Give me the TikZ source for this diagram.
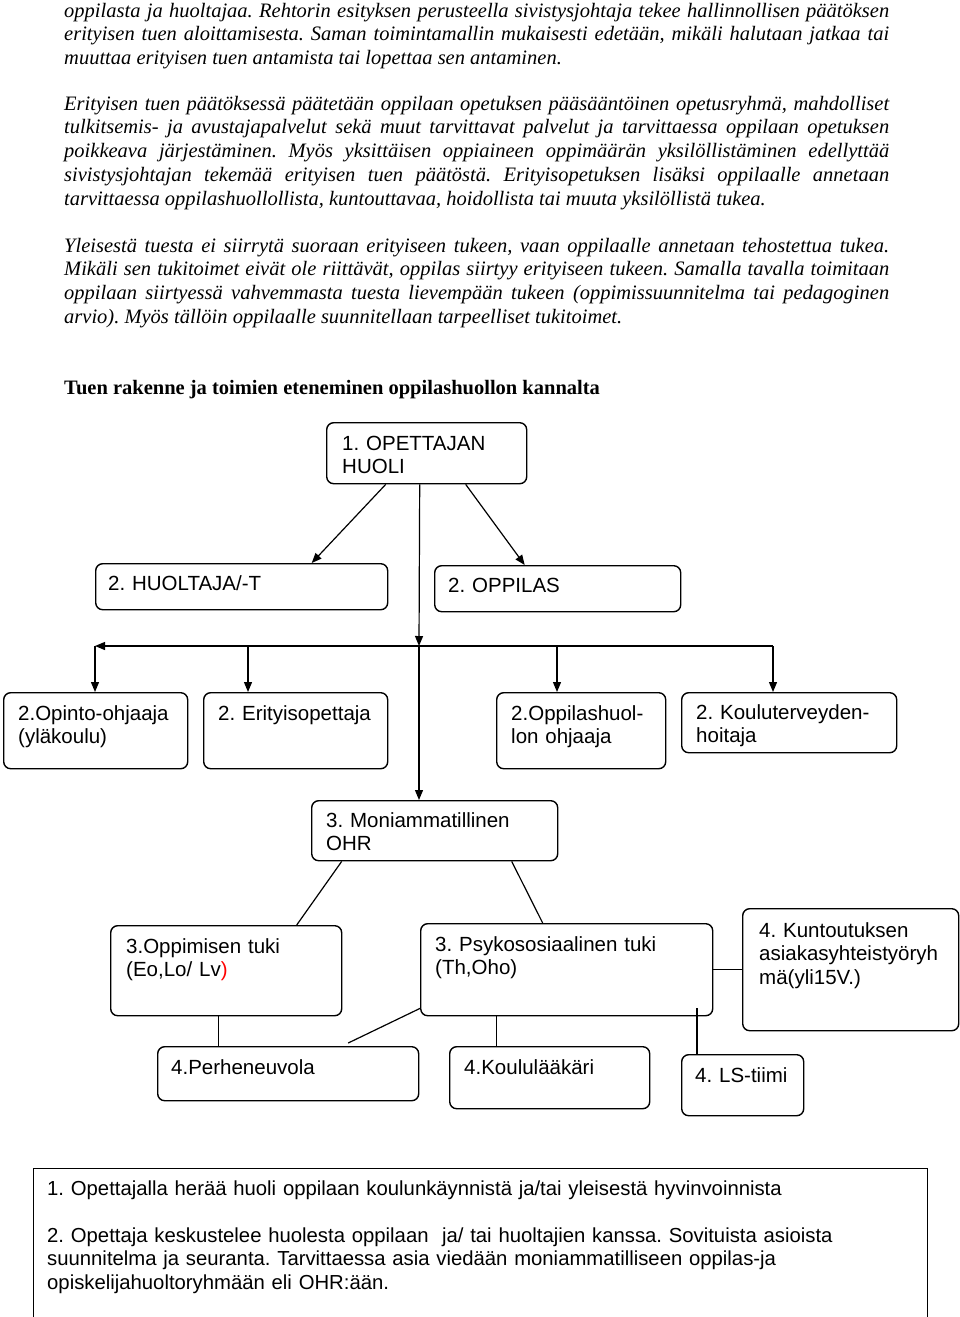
\documentclass[tikz,border=0pt]{standalone}
\usepackage{fontspec}
\setmainfont{Liberation Serif}
\newfontfamily\diafont{Liberation Sans}
\usetikzlibrary{arrows.meta}
\newcommand\parasetup{\spaceskip=0.25em plus 0.5em minus 0.12em\relax\hyphenpenalty=10000\relax\exhyphenpenalty=10000\relax}
\newcommand\parablock[1]{\parbox[t]{825pt}{\parasetup #1}}
\begin{document}
\hyphenpenalty=10000
\exhyphenpenalty=10000
\frenchspacing
\begin{tikzpicture}[x=1pt,y=-1pt,
  box/.style={draw, line width=1.4pt, rounded corners=7pt, inner sep=0pt, anchor=north west},
  dt/.style={anchor=base west, text width=300pt, align=left, inner sep=0pt, font=\diafont\fontsize{20.5}{23.5}\selectfont},
  para/.style={anchor=base west, inner sep=0pt,
    font=\fontsize{20.5}{23.8}\selectfont\itshape},
  arr/.style={-{Triangle[length=10pt,width=8pt]}, line width=1.2pt},
  ln/.style={line width=1.2pt}]
\useasboundingbox (0,0) rectangle (960,1317);

% body text
\node[para] (p1) at (64,17) {\parablock{oppilasta ja huoltajaa. Rehtorin esityksen perusteella sivistysjohtaja tekee hallinnollisen päätöksen\linebreak erityisen tuen aloittamisesta. Saman toimintamallin mukaisesti edetään, mikäli halutaan jatkaa tai\linebreak muuttaa erityisen tuen antamista tai lopettaa sen antaminen.}};
\node[para] (p2) at (64,110) {\parablock{Erityisen tuen päätöksessä päätetään oppilaan opetuksen pääsääntöinen opetusryhmä, mahdolliset\linebreak tulkitsemis- ja avustajapalvelut sekä muut tarvittavat palvelut ja tarvittaessa oppilaan opetuksen\linebreak poikkeava järjestäminen. Myös yksittäisen oppiaineen oppimäärän yksilöllistäminen edellyttää\linebreak sivistysjohtajan tekemää erityisen tuen päätöstä. Erityisopetuksen lisäksi oppilaalle annetaan\linebreak tarvittaessa oppilashuollollista, kuntouttavaa, hoidollista tai muuta yksilöllistä tukea.}};
\node[para] (p3) at (64,252) {\parablock{Yleisestä tuesta ei siirrytä suoraan erityiseen tukeen, vaan oppilaalle annetaan tehostettua tukea.\linebreak Mikäli sen tukitoimet eivät ole riittävät, oppilas siirtyy erityiseen tukeen. Samalla tavalla toimitaan\linebreak oppilaan siirtyessä vahvemmasta tuesta lievempään tukeen (oppimissuunnitelma tai pedagoginen\linebreak arvio). Myös tällöin oppilaalle suunnitellaan tarpeelliset tukitoimet.}};
\node[anchor=base west, inner sep=0pt, font=\fontsize{20.5}{23.8}\selectfont\bfseries] (head) at (64,394) {Tuen rakenne ja toimien eteneminen oppilashuollon kannalta};

% boxes
\node[box, minimum width=200pt, minimum height=61pt] (huoli) at (326,422) {};
\node[box, minimum width=292pt, minimum height=46pt] (huoltaja) at (95,563) {};
\node[box, minimum width=246pt, minimum height=46pt] (oppilas) at (434,565) {};
\node[box, minimum width=184pt, minimum height=76pt] (opinto) at (3,692) {};
\node[box, minimum width=184pt, minimum height=76pt] (erityis) at (203,692) {};
\node[box, minimum width=169pt, minimum height=76pt] (ohjaaja) at (496,692) {};
\node[box, minimum width=215pt, minimum height=60pt] (koulut) at (681,692) {};
\node[box, minimum width=246pt, minimum height=60pt] (ohr) at (311,800) {};
\node[box, minimum width=231pt, minimum height=90pt] (oppim) at (110,925) {};
\node[box, minimum width=292pt, minimum height=92pt] (psyk) at (420,923) {};
\node[box, minimum width=216pt, minimum height=122pt] (kunt) at (742,908) {};
\node[box, minimum width=261pt, minimum height=54pt] (perhe) at (157,1046) {};
\node[box, minimum width=200pt, minimum height=62pt] (laakari) at (449,1046) {};
\node[box, minimum width=122pt, minimum height=61pt] (ls) at (681,1054) {};
\node[draw, line width=1.4pt, inner sep=0pt, anchor=north west, minimum width=894pt, minimum height=220pt] (legend) at (33,1168) {};

% box texts
\node[dt] (huoli-t) at (342,450) {1. OPETTAJAN\\HUOLI};
\node[dt] (huoltaja-t) at (108,590) {2. HUOLTAJA/-T};
\node[dt] (oppilas-t) at (448,592) {2. OPPILAS};
\node[dt] (opinto-t) at (18,720) {2.Opinto-ohjaaja\\(yläkoulu)};
\node[dt] (erityis-t) at (218,720) {2. Erityisopettaja};
\node[dt] (ohjaaja-t) at (511,720) {2.Oppilashuol-\\lon ohjaaja};
\node[dt] (koulut-t) at (696,719) {2. Kouluterveyden-\\hoitaja};
\node[dt] (ohr-t) at (326,827) {3. Moniammatillinen\\OHR};
\node[dt] (oppim-t) at (126,953) {3.Oppimisen tuki\\(Eo,Lo/ Lv\textcolor{red}{)}};
\node[dt] (psyk-t) at (435,951) {3. Psykososiaalinen tuki\\(Th,Oho)};
\node[dt] (kunt-t) at (759,937) {4. Kuntoutuksen\\asiakasyhteistyöryh\\mä(yli15V.)};
\node[dt] (perhe-t) at (171,1074) {4.Perheneuvola};
\node[dt] (laakari-t) at (464,1074) {4.Koululääkäri};
\node[dt] (ls-t) at (695,1082) {4. LS-tiimi};
\node[dt, text width=870pt, font=\diafont\fontsize{20.3}{23.5}\selectfont] (legend-t1) at (47,1195) {1. Opettajalla herää huoli oppilaan koulunkäynnistä ja/tai yleisestä hyvinvoinnista};
\node[dt, text width=870pt, font=\diafont\fontsize{20.3}{23.5}\selectfont] (legend-t2) at (47,1242) {2. Opettaja keskustelee huolesta oppilaan\ \ ja/ tai huoltajien kanssa. Sovituista asioista\\suunnitelma ja seuranta. Tarvittaessa asia viedään moniammatilliseen oppilas-ja\\opiskelijahuoltoryhmään eli OHR:ään.};

% hub coordinates
\coordinate (hub) at (419,646);
\coordinate (hL) at (95,646);
\coordinate (hE) at (248,646);
\coordinate (hO) at (557,646);
\coordinate (hR) at (773,646);
\coordinate (lsTop) at (697,1008);

% connectors
\draw[arr] ([xshift=-41pt]huoli.south) -- ([xshift=70pt]huoltaja.north);
\draw[arr] ([xshift=39pt]huoli.south) -- ([xshift=-33pt]oppilas.north);
\draw[arr] ([xshift=-7pt]huoli.south) -- (hub);
\draw[arr] (hub) -- (hub |- ohr.north);
\draw[arr] (hR) -- (hL);
\draw[arr] (hL) -- (hL |- opinto.north);
\draw[arr] (hE) -- (hE |- erityis.north);
\draw[arr] (hO) -- (hO |- ohjaaja.north);
\draw[arr] (hR) -- (hR |- koulut.north);

\draw[ln] ([xshift=-93pt]ohr.south) -- ([xshift=70.5pt]oppim.north);
\draw[ln] ([xshift=77pt]ohr.south) -- ([xshift=-24pt]psyk.north);
\draw[ln] (psyk.east) -- (kunt.west |- psyk.east);
\draw[ln] ([xshift=-7.5pt]oppim.south) -- ([xshift=-7.5pt]oppim.south |- perhe.north);
\draw[ln] ([yshift=8pt]psyk.south west) -- ([xshift=60pt,yshift=3pt]perhe.north);
\draw[ln] ([xshift=-70pt]psyk.south) -- ([xshift=-70pt]psyk.south |- laakari.north);
\draw[ln] (lsTop) -- (lsTop |- ls.north);
\end{tikzpicture}
\end{document}
